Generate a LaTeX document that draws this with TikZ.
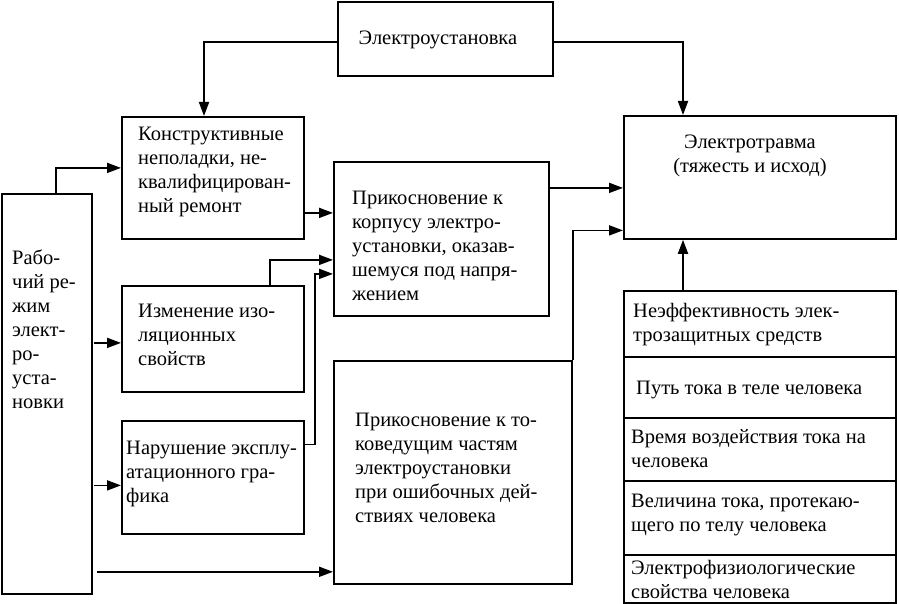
\documentclass[tikz,border=0pt]{standalone}
\usepackage{fontspec}
\setmainfont{Liberation Serif}
\usetikzlibrary{arrows.meta}
\begin{document}
\begin{tikzpicture}[x=1pt,y=-1pt,
  box/.style={draw,line width=1.8pt,anchor=north west,inner sep=0pt},
  txt/.style={inner sep=0pt,align=left,font=\fontsize{20.5}{24}\selectfont},
  arr/.style={line width=1.8pt,-{Triangle[length=14pt,width=10pt]}},
  ln/.style={line width=1.8pt}]
\useasboundingbox (0,0) rectangle (899,604);
% boxes
\node[box,minimum width=215,minimum height=74] (eu) at (337,1) {};
\node[box,minimum width=182,minimum height=122] (kn) at (121,116) {};
\node[box,minimum width=90,minimum height=400] (rr) at (1,193) {};
\node[box,minimum width=182,minimum height=106] (iz) at (121,285) {};
\node[box,minimum width=182,minimum height=113] (nr) at (121,420) {};
\node[box,minimum width=215,minimum height=154] (kr) at (333,161) {};
\node[box,minimum width=238,minimum height=223] (tv) at (333,360) {};
\node[box,minimum width=272,minimum height=123] (et) at (623,115) {};
\node[box,minimum width=272,minimum height=312] (st) at (623,290) {};
\draw[line width=1.2pt] (st.west |- 0,357) -- (st.east |- 0,357);
\draw[line width=1.2pt] (st.west |- 0,418) -- (st.east |- 0,418);
\draw[line width=1.2pt] (st.west |- 0,481) -- (st.east |- 0,481);
\draw[line width=1.2pt] (st.west |- 0,555) -- (st.east |- 0,555);
% texts
\node[txt] (teu) at (438,40) {Электроустановка};
\node[txt,anchor=west] (tkn) at (138,172) {Конструктивные\\неполадки, не-\\квалифицирован-\\ный ремонт};
\node[txt,anchor=west] (trr) at (12,329) {Рабо-\\чий ре-\\жим\\элект-\\ро-\\уста-\\новки};
\node[txt,anchor=west] (tiz) at (138,335) {Изменение изо-\\ляционных\\свойств};
\node[txt,anchor=west] (tnr) at (126,474) {Нарушение эксплу-\\атационного гра-\\фика};
\node[txt,anchor=west] (tkr) at (352,246) {Прикосновение к\\корпусу электро-\\установки, оказав-\\шемуся под напря-\\жением};
\node[txt,anchor=west] (ttv) at (355,468) {Прикосновение к то-\\коведущим частям\\электроустановки\\при ошибочных дей-\\ствиях человека};
\node[txt,align=center] (tet) at (750,156) {Электротравма\\(тяжесть и исход)};
\node[txt,anchor=west] (ts1) at (633,325) {Неэффективность элек-\\трозащитных средств};
\node[txt,anchor=west] (ts2) at (636,390) {Путь тока в теле человека};
\node[txt,anchor=west] (ts3) at (631,449) {Время воздействия тока на\\человека};
\node[txt,anchor=west] (ts4) at (631,515) {Величина тока, протекаю-\\щего по телу человека};
\node[txt,anchor=west] (ts5) at (631,579) {Электрофизиологические\\свойства человека};
% connectors
\draw[arr] ([yshift=-3pt]eu.west) -| ([xshift=83pt]kn.north west);
\draw[arr] ([yshift=-3pt]eu.east) -| ([xshift=60pt]et.north west);
\draw[arr] ([xshift=55pt]rr.north west) |- ([yshift=10pt]kn.west);
\draw[arr] (rr.east |- iz.west) ++(1,4) -- ([yshift=-4pt]iz.west);
\draw[arr] (rr.east |- nr.west) ++(1,8) -- ([yshift=-8pt]nr.west);
\draw[arr] ([xshift=4pt,yshift=13pt]rr.east |- tv.south) -- ([yshift=13pt]tv.south west);
\draw[arr] ([yshift=-35pt]kn.east) -- ([yshift=-35pt]kn.east -| kr.west);
\draw[arr] ([xshift=-35pt]iz.north east) |- ([yshift=-21pt]kr.west);
\draw[arr] ([yshift=33pt]nr.east) -- ++(10,0) |- ([yshift=-35pt]kr.west);
\draw[arr] ([yshift=51pt]kr.east) -- ([yshift=51pt]kr.east -| et.west);
\draw[arr] (tv.north east) |- ([yshift=-53pt]et.west);
\draw[arr] ([xshift=60pt]st.north west) -- ([xshift=60pt]et.south west);
\end{tikzpicture}
\end{document}
